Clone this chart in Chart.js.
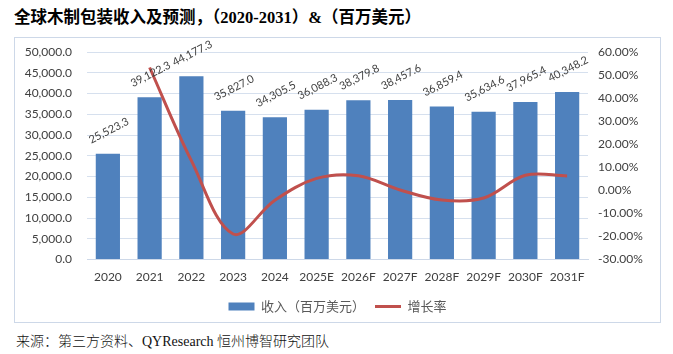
<!DOCTYPE html>
<html>
<head>
<meta charset="utf-8">
<script src="https://cdn.jsdelivr.net/npm/chart.js@4.4.1/dist/chart.umd.min.js"></script>
<style>
  body { margin: 0; background: #fff; width: 673px; height: 354px; overflow: hidden; position: relative; }
  #title { position: absolute; left: 14px; top: 4px; font: bold 16.5px "Liberation Serif", "Noto Sans CJK SC", serif; color: #000; white-space: nowrap; }
  #box { position: absolute; left: 14px; top: 37px; width: 645px; height: 284px; border: 1px solid #cdd8e8; }
  #source { position: absolute; left: 16px; top: 330px; font: 300 14px "Liberation Serif", "Noto Sans CJK SC", serif; color: #111; white-space: nowrap; }
</style>
</head>
<body>
<div id="title">全球木制包装收入及预测，（2020-2031）&amp;（百万美元）</div>
<div id="box"><canvas id="chart" width="645" height="284"></canvas></div>
<div id="source">来源：第三方资料、QYResearch 恒州博智研究团队</div>
<script>
// data
const years = ['2020', '2021', '2022', '2023', '2024', '2025E', '2026F', '2027F', '2028F', '2029F', '2030F', '2031F'];
const revenue = [25523.3, 39122.3, 44177.3, 35827.0, 34305.5, 36088.3, 38379.8, 38457.6, 36859.4, 35634.6, 37965.4, 40348.2];
const growth = [null, 53.28, 12.92, -18.90, -4.25, 5.20, 6.35, 0.20, -4.16, -3.32, 6.54, 6.28];

const tickFont = { family: 'Lato, "Noto Sans CJK SC", sans-serif', size: 12 };
const textColor = '#404040';

// rotated value labels above the bars
const barLabels = {
    id: 'barLabels',
    afterDatasetsDraw(chart) {
        const ctx = chart.ctx;
        const meta = chart.getDatasetMeta(1);
        ctx.save();
        ctx.font = '11px Lato, sans-serif';
        ctx.fillStyle = textColor;
        ctx.textAlign = 'center';
        ctx.textBaseline = 'middle';
        meta.data.forEach((bar, i) => {
            const txt = revenue[i].toLocaleString('en-US', { minimumFractionDigits: 1, maximumFractionDigits: 1 });
            ctx.save();
            ctx.translate(bar.x + 1, bar.y - 23);
            ctx.rotate(-27 * Math.PI / 180);
            ctx.fillText(txt, 0, 0);
            ctx.restore();
        });
        ctx.restore();
    }
};

// fixed side width; keep tick padding from pushing the plot top down
function fitSide(scale) {
    scale.width = 72;
    scale.paddingTop = 8;
    scale.paddingBottom = 8;
}

new Chart(document.getElementById('chart').getContext('2d'), {
    data: {
        labels: years,
        datasets: [
            {
                type: 'line',
                label: '增长率',
                data: growth,
                yAxisID: 'y1',
                borderColor: '#c0504d',
                backgroundColor: '#c0504d',
                borderWidth: 3,
                pointRadius: 0,
                tension: 0.35,
                pointStyle: 'line',
                order: 0
            },
            {
                type: 'bar',
                label: '收入（百万美元）',
                data: revenue,
                yAxisID: 'y',
                backgroundColor: '#4f81bd',
                barPercentage: 0.58,
                categoryPercentage: 1,
                pointStyle: 'rect',
                order: 1
            }
        ]
    },
    options: {
        responsive: false,
        animation: false,
        layout: { padding: { top: 14, right: 0, bottom: -1, left: 0 } },
        plugins: {
            legend: {
                position: 'bottom',
                reverse: true,
                labels: {
                    usePointStyle: true,
                    pointStyleWidth: 26,
                    boxHeight: 8,
                    color: '#595959',
                    padding: 10,
                    font: { family: '"Noto Sans CJK SC", sans-serif', size: 13 }
                }
            },
            tooltip: { enabled: false }
        },
        scales: {
            x: {
                afterFit(scale) { scale.height += 4; },
                grid: { display: false },
                border: { color: '#cdd8e8' },
                ticks: { color: textColor, font: tickFont, maxRotation: 0, padding: 2 }
            },
            y: {
                position: 'left',
                min: 0,
                max: 50000,
                afterFit: fitSide,
                grid: { color: '#d6e0ee', drawTicks: false },
                border: { display: false },
                ticks: {
                    stepSize: 5000,
                    color: textColor,
                    font: tickFont,
                    padding: 15,
                    callback: v => v.toLocaleString('en-US', { minimumFractionDigits: 1, maximumFractionDigits: 1 })
                }
            },
            y1: {
                position: 'right',
                min: -30,
                max: 60,
                afterFit: fitSide,
                grid: { display: false, drawTicks: false },
                border: { display: false },
                ticks: {
                    stepSize: 10,
                    color: textColor,
                    font: tickFont,
                    padding: 10,
                    callback: v => v.toFixed(2) + '%'
                }
            }
        }
    },
    plugins: [barLabels]
});
</script>
</body>
</html>
